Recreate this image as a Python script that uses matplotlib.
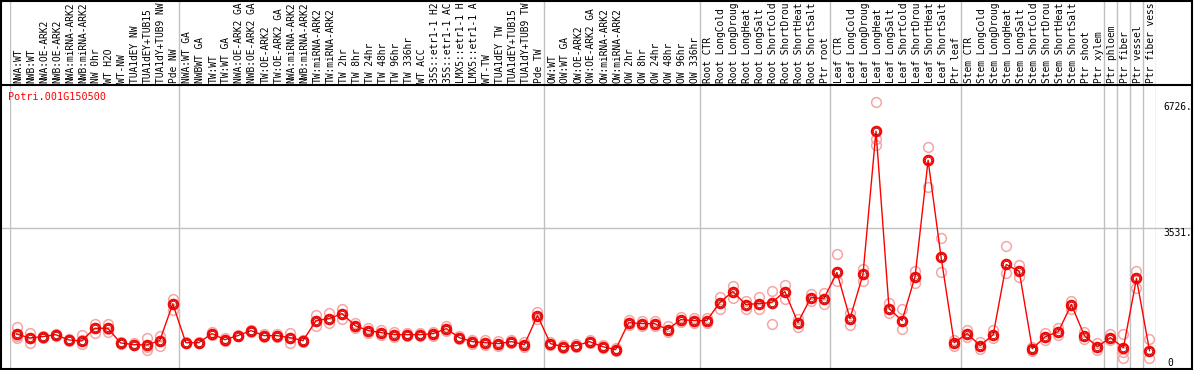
import matplotlib
matplotlib.use('Agg')
import matplotlib.pyplot as plt
from matplotlib.lines import Line2D
from matplotlib.patches import Rectangle

gene = 'Potri.001G150500'

labels = [
    'NWA:WT', 'NWB:WT', 'NWA:OE-ARK2', 'NWB:OE-ARK2', 'NWA:miRNA-ARK2', 'NWB:miRNA-ARK2',
    'NW 0hr', 'WT H2O', 'WT-NW', 'TUA1dEY NW', 'TUA1dEY+TUB15', 'TUA1dY+TUB9 NW', 'Pde NW',
    'NWA:WT GA', 'NWBWT GA', 'TW:WT', 'TW:WT GA', 'NWA:OE-ARK2 GA', 'NWB:OE-ARK2 GA',
    'TW:OE-ARK2', 'TW:OE-ARK2 GA', 'NWA:miRNA-ARK2', 'NWB:miRNA-ARK2', 'TW:miRNA-ARK2',
    'TW:miRNA-ARK2', 'TW 2hr', 'TW 8hr', 'TW 24hr', 'TW 48hr', 'TW 96hr', 'TW 336hr',
    'WT ACC', '35S::etr1-1 H2', '35S::etr1-1 AC', 'LMX5::etr1-1 H', 'LMX5::etr1-1 A',
    'WT-TW', 'TUA1dEY TW', 'TUA1dEY+TUB15', 'TUA1dY+TUB9 TW', 'Pde TW',
    'OW:WT', 'OW:WT GA', 'OW:OE-ARK2', 'OW:OE-ARK2 GA', 'OW:miRNA-ARK2', 'OW:miRNA-ARK2',
    'OW 2hr', 'OW 8hr', 'OW 24hr', 'OW 48hr', 'OW 96hr', 'OW 336hr',
    'Root CTR', 'Root LongCold', 'Root LongDroug', 'Root LongHeat', 'Root LongSalt',
    'Root ShortCold', 'Root ShortDrou', 'Root ShortHeat', 'Root ShortSalt', 'Ptr root',
    'Leaf CTR', 'Leaf LongCold', 'Leaf LongDroug', 'Leaf LongHeat', 'Leaf LongSalt',
    'Leaf ShortCold', 'Leaf ShortDrou', 'Leaf ShortHeat', 'Leaf ShortSalt', 'Ptr leaf',
    'Stem CTR', 'Stem LongCold', 'Stem LongDroug', 'Stem LongHeat', 'Stem LongSalt',
    'Stem ShortCold', 'Stem ShortDrou', 'Stem ShortHeat', 'Stem ShortSalt', 'Ptr shoot',
    'Ptr xylem', 'Ptr phloem', 'Ptr fiber', 'Ptr vessel', 'Ptr fiber vess',
]

means = [
    862, 760, 793, 844, 710, 684, 1004, 1004, 634, 591, 583, 692, 1622,
    641, 641, 870, 717, 819, 946, 819, 819, 768, 692, 1199, 1250, 1376, 1072, 946,
    895, 844, 844, 844, 870, 996, 768, 667, 641, 616, 667, 591, 1326,
    616, 540, 565, 667, 540, 464, 1148, 1123, 1123, 971, 1224, 1199,
    1199, 1655, 1934, 1605, 1630, 1655, 1934, 1148, 1782, 1757,
    2416, 1250, 2365, 5990, 1503, 1199, 2314, 5255, 2796, 641,
    870, 565, 844, 2619, 2441, 489, 793, 920, 1605, 819, 540,
    768, 515, 2264, 439,
]

reps = [
    [1045, 770, 800], [893, 641, 760], [820, 770], [870, 820], [740, 690],
    [844, 616, 700], [1123, 895, 1000], [1123, 920, 980], [660, 610], [620, 570],
    [770, 464, 520], [819, 565, 690], [1757, 1478, 1630],
    [660, 620], [670, 620], [900, 840], [770, 680], [840, 800], [970, 920],
    [850, 790], [860, 780], [890, 640, 760], [720, 660], [1350, 1050, 1200],
    [1400, 1150], [1500, 1250], [1150, 1000], [1000, 890], [950, 840],
    [900, 790], [880, 810], [890, 800], [920, 820], [1060, 930], [800, 730],
    [720, 610], [700, 580], [680, 550], [700, 630], [650, 520], [1420, 1230],
    [650, 590], [570, 510], [600, 530], [700, 640], [570, 510], [500, 430],
    [1220, 1080], [1180, 1060], [1200, 1050], [1050, 900], [1280, 1170], [1260, 1140],
    [1260, 1130], [1800, 1500], [2086, 1780], [1700, 1500], [1800, 1480],
    [1950, 1123], [2100, 1750], [1250, 1030], [1860, 1700], [1900, 1620],
    [2873, 2200], [1400, 1100], [2500, 2200], [6726, 5634, 5800], [1650, 1380],
    [1500, 980], [2450, 2150], [5585, 4571], [3278, 2416], [720, 560],
    [950, 790], [650, 480], [950, 760], [3075, 2400], [2600, 2300], [540, 430],
    [880, 720], [1000, 840], [1700, 1480], [900, 740], [620, 460],
    [869, 700], [869, 262, 400], [2441, 2035], [743, 262],
]

group_edges = [0, 13, 41, 53, 63, 73, 84, 85, 86, 87, 88]
max_label = 6726
mid_label = 3531

W, H = 1194, 370
mono = 'DejaVu Sans Mono'
fs = 6.9

fig = plt.figure(figsize=(W / 100, H / 100), dpi=100)

x0, x1 = 10, 1156
y_top, y_bot = 85, 368
n = len(labels)

ax = fig.add_axes([x0 / W, (H - y_bot) / H, (x1 - x0) / W, (y_bot - y_top) / H])
hax = fig.add_axes([x0 / W, (H - y_top) / H, (x1 - x0) / W, y_top / H])

for a in (ax, hax):
    a.set_xlim(0, n)
    a.axis('off')
ax.set_ylim(0, 7158)
hax.set_ylim(0, 1)

for e in group_edges:
    ax.axvline(e, color='#c0c0c0', lw=1, zorder=1)
    hax.axvline(e, color='#c0c0c0', lw=1, zorder=1)

ax.axhline(mid_label, xmin=-9 / (x1 - x0), xmax=(1192 - x0) / (x1 - x0),
           color='#c0c0c0', lw=1, clip_on=False, zorder=1)

xs = [i + 0.5 for i in range(n)]
for x, r in zip(xs, reps):
    ax.plot([x] * len(r), r, 'o', ms=7, mfc='none', mec='#f4a6a6', mew=1.1,
            clip_on=False, zorder=2)
ax.plot(xs, means, '-', color='red', lw=1, zorder=3)
ax.plot(xs, means, 'o', ms=6.8, mfc='none', mec='red', mew=1.5, zorder=4)
ax.plot(xs, means, 'o', ms=4.6, mfc='none', mec='#a00000', mew=0.6, zorder=5)

for x, lab in zip(xs, labels):
    hax.text(x + 0.12, 0.02, lab, rotation=90, ha='center', va='bottom',
             family=mono, fontsize=fs, color='black')

# right side scale labels
ax.text(n + 0.55, max_label, '%d.' % max_label, ha='left', va='top',
        family=mono, fontsize=fs, clip_on=False)
ax.text(n + 0.55, mid_label, '%d.' % mid_label, ha='left', va='top',
        family=mono, fontsize=fs, clip_on=False)
ax.text(n + 0.85, 0, '0', ha='left', va='bottom',
        family=mono, fontsize=fs, clip_on=False)

fig.text(8 / W, 1 - 97 / H, gene, color='red', family=mono, fontsize=7.3,
         ha='left', va='center')

# outer frame and header separator
fig.add_artist(Rectangle((1 / W, (H - 368.5) / H), 1191 / W, 368 / H,
                         transform=fig.transFigure, fill=False, ec='black', lw=1.5))
fig.add_artist(Line2D([1 / W, 1192 / W], [(H - y_top) / H] * 2,
                      transform=fig.transFigure, color='black', lw=1.5))

fig.savefig('out.png', dpi=100)
